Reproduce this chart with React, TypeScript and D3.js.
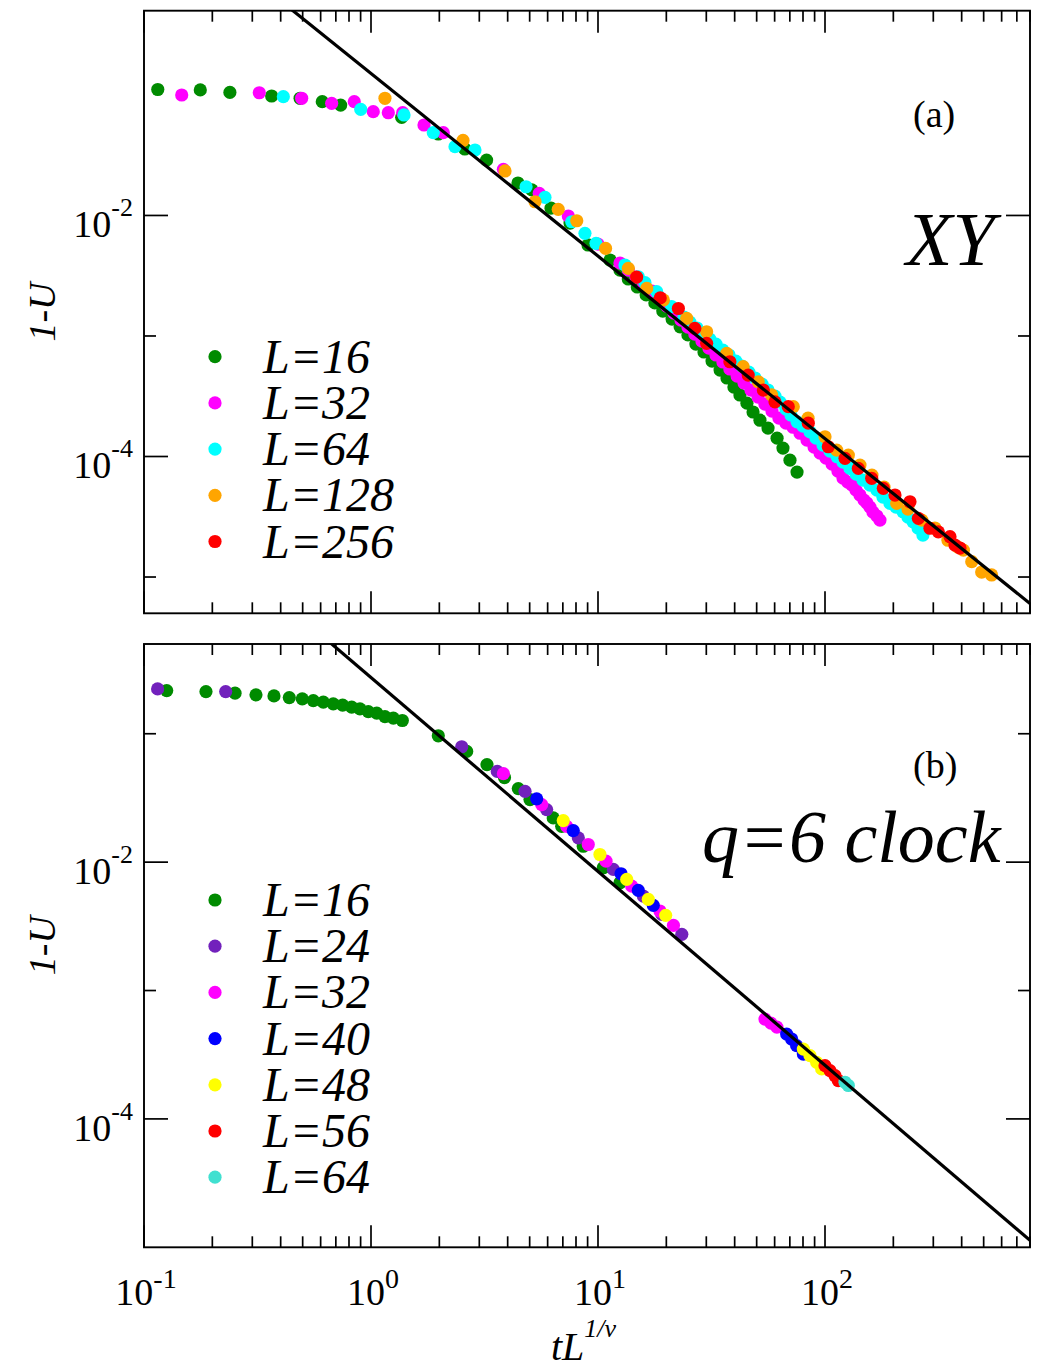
import React from "react";
import * as d3 from "d3";

// panel (a): XY model, 1-U against tL^{1/nu}
const XY_L16: [number, number][] = [
  [0.115, 0.111], [0.177, 0.11], [0.239, 0.105], [0.365, 0.098], [0.487, 0.0938],
  [0.61, 0.0879], [0.735, 0.0824], [1.365, 0.0652], [1.98, 0.0474], [2.59, 0.0356],
  [3.23, 0.0288], [4.44, 0.0186], [5.11, 0.0163], [6.21, 0.0115], [7.53, 0.00865],
  [9.04, 0.00569], [11.3, 0.00427], [12.5, 0.00352], [13.6, 0.00297], [14.9, 0.00255],
  [16.3, 0.00219], [17.8, 0.00188], [19.3, 0.00161], [21.2, 0.00138], [23.0, 0.00119],
  [24.9, 0.00102], [27.0, 0.000857], [29.3, 0.000736], [31.8, 0.000619], [34.5, 0.000521],
  [37.0, 0.000448], [39.7, 0.000377], [42.2, 0.000324], [45.3, 0.000277], [48.2, 0.000234],
  [51.7, 0.0002], [56.1, 0.000172], [61.5, 0.000142], [65.3, 0.0001175], [70.1, 9.33e-5],
  [75.3, 7.43e-5],
];
const XY_L32: [number, number][] = [
  [0.1466, 0.0999], [0.322, 0.1043], [0.495, 0.0938], [0.671, 0.0852], [0.844, 0.0879],
  [1.023, 0.0726], [1.192, 0.0712], [1.379, 0.0712], [1.712, 0.0563], [2.082, 0.0486],
  [3.83, 0.02415], [5.51, 0.01527], [7.4, 0.00989], [10.0, 0.00579], [12.5, 0.00403],
  [13.6, 0.00352], [14.7, 0.00308], [15.9, 0.0027], [17.3, 0.00236], [18.8, 0.00207],
  [20.1, 0.00177], [21.6, 0.00155], [23.2, 0.001355], [24.9, 0.001186], [26.7, 0.001038],
  [28.7, 0.000908], [30.8, 0.000794], [33.1, 0.000695], [35.5, 0.000608], [38.1, 0.000532],
  [41.0, 0.000465], [44.0, 0.000406], [47.2, 0.000356], [50.7, 0.000311], [54.4, 0.000272],
  [58.4, 0.000238], [62.7, 0.000208], [67.3, 0.000189], [72.3, 0.000175], [77.6, 0.000156],
  [83.3, 0.0001368], [89.5, 0.0001197], [95.1, 0.0001067], [101, 9.7e-5], [107.4, 8.65e-5],
  [114, 7.57e-5], [120, 6.62e-5], [126, 6.14e-5], [131.5, 5.79e-5], [137, 5.26e-5],
  [142.6, 4.79e-5], [148.6, 4.35e-5], [153, 4.11e-5], [157.8, 3.8e-5], [162.6, 3.46e-5],
  [169.4, 3.21e-5], [174.6, 2.97e-5],
];
const XY_L64: [number, number][] = [
  [0.411, 0.0967], [0.901, 0.076], [1.398, 0.0682], [1.881, 0.0486], [2.344, 0.0372],
  [2.871, 0.0349], [4.82, 0.01731], [5.84, 0.01414], [7.66, 0.00887], [8.76, 0.00711],
  [9.8, 0.00587], [13.15, 0.00388], [15.05, 0.0031], [16.1, 0.00277], [18.14, 0.00233],
  [21.1, 0.00175], [23.9, 0.001436], [25.4, 0.001305], [27.3, 0.001164], [29.0, 0.001057],
  [31.1, 0.000943], [33.1, 0.000857], [35.5, 0.000764], [37.8, 0.000695], [40.5, 0.000619],
  [43.1, 0.000563], [46.2, 0.000502], [49.2, 0.000448], [52.8, 0.000399], [56.1, 0.000356],
  [60.2, 0.000317], [63.4, 0.000283], [67.3, 0.000248], [70.8, 0.000221], [75.3, 0.000194],
  [80.0, 0.000179], [85.9, 0.00016], [91.3, 0.000142], [98.0, 0.0001245], [105.2, 0.000111],
  [113, 9.95e-5], [120, 8.99e-5], [128.8, 7.97e-5], [137, 7.15e-5], [147, 6.37e-5],
  [157.8, 5.79e-5], [169.4, 5.26e-5], [180.1, 4.6e-5], [193.3, 4.08e-5], [205.5, 3.8e-5],
  [220.6, 3.48e-5], [232, 3.14e-5], [244.2, 2.87e-5], [256.9, 2.55e-5], [270, 2.23e-5],
];
const XY_L128: [number, number][] = [
  [1.152, 0.0938], [2.543, 0.0419], [3.894, 0.0234], [5.28, 0.013], [6.68, 0.01125],
  [8.06, 0.00904], [10.8, 0.00533], [13.6, 0.00364], [16.4, 0.00248], [19.4, 0.00199],
  [24.6, 0.0014], [30.1, 0.001084], [36.9, 0.000718], [43.6, 0.000556], [50.8, 0.000417],
  [58.2, 0.000324], [72.5, 0.000259], [84.2, 0.000208], [100, 0.0001459], [112.6, 0.0001131],
  [126.7, 0.0001028], [142.6, 8.49e-5], [161, 7.01e-5], [182, 5.57e-5], [207, 4.08e-5],
  [232, 3.66e-5], [267, 2.97e-5], [305, 2.55e-5], [348, 2.02e-5], [385, 1.77e-5],
  [407, 1.67e-5], [443, 1.34e-5], [490, 1.1e-5], [542, 1.04e-5],
];
const XY_L256: [number, number][] = [
  [14.8, 0.00308], [18.8, 0.00207], [22.6, 0.00169], [26.7, 0.001156], [30.1, 0.000869],
  [38.1, 0.000611], [45.9, 0.000474], [53.5, 0.000356], [60.2, 0.000284], [68.9, 0.000259],
  [84.4, 0.000189], [103.4, 0.0001205], [122.5, 9.65e-5], [140.2, 7.97e-5], [160.6, 6.59e-5],
  [180.7, 5.44e-5], [203.4, 4.79e-5], [236.8, 4.21e-5], [257.8, 3.07e-5], [290, 2.54e-5],
  [315.7, 2.37e-5], [355.3, 2.16e-5], [373.8, 1.84e-5], [393.3, 1.74e-5],
];

// panel (b): q=6 clock model
const CLOCK_L16: [number, number][] = [
  [0.1259, 0.2168], [0.1875, 0.213], [0.2518, 0.207], [0.3114, 0.2008], [0.3738, 0.1972],
  [0.4366, 0.1913], [0.498, 0.1869], [0.557, 0.1813], [0.6166, 0.1762], [0.682, 0.1709],
  [0.75, 0.167], [0.822, 0.1611], [0.894, 0.1563], [0.973, 0.1489], [1.06, 0.1447],
  [1.152, 0.1361], [1.254, 0.1323], [1.374, 0.1268], [1.979, 0.0964], [2.64, 0.0728],
  [3.243, 0.0574], [3.873, 0.0456], [4.456, 0.0374], [5.017, 0.0307], [6.35, 0.0221],
  [6.92, 0.019], [8.61, 0.0133], [10.55, 0.00904], [12.5, 0.00691],
];
const CLOCK_L24: [number, number][] = [
  [0.1148, 0.2235], [0.229, 0.213], [2.51, 0.0792], [3.6, 0.0509], [4.77, 0.0356],
  [5.94, 0.02565], [8.19, 0.01546], [11.68, 0.00877], [15.84, 0.00544], [19.1, 0.00392],
  [23.4, 0.00274],
];
const CLOCK_L32: [number, number][] = [
  [3.83, 0.0489], [5.65, 0.02805], [7.28, 0.019], [9.06, 0.01372], [10.85, 0.01017],
  [14.08, 0.0065], [18.75, 0.00416], [21.5, 0.00322], [54.4, 0.000599], [57.8, 0.000558],
  [61.4, 0.000519],
];
const CLOCK_L40: [number, number][] = [
  [5.37, 0.0311], [7.78, 0.01762], [12.63, 0.00812], [15.05, 0.00602], [17.52, 0.00461],
  [67.8, 0.000458], [71.3, 0.000419], [75.0, 0.000372], [80.3, 0.00032],
];
const CLOCK_L48: [number, number][] = [
  [7.03, 0.02107], [10.2, 0.01147], [13.38, 0.00733], [16.66, 0.00513], [19.87, 0.00385],
  [80.3, 0.00035], [85.9, 0.000311], [91.9, 0.000276], [96.7, 0.000245],
];
const CLOCK_L56: [number, number][] = [
  [100, 0.00026], [105.2, 0.000238], [110.7, 0.000217], [114.4, 0.000199],
];
const CLOCK_L64: [number, number][] = [
  [122.5, 0.000193], [126.7, 0.000182],
];

// power-law guide lines: 1-U = amp * x^(-exponent)
const XY_FIT = { amp: 0.1507, exponent: 1.515 };
const CLOCK_FIT = { amp: 0.274, exponent: 1.51 };

const X_MAJOR = [0.1, 1, 10, 100];
const X_LABELS = ["-1", "0", "1", "2"];
const Y_MAJOR = [1e-2, 1e-4];
const Y_LABELS = ["-2", "-4"];

const XY_SERIES = [
  { label: "L=16", color: "#008b00", data: XY_L16 },
  { label: "L=32", color: "#ff00ff", data: XY_L32 },
  { label: "L=64", color: "#00ffff", data: XY_L64 },
  { label: "L=128", color: "#ffa500", data: XY_L128 },
  { label: "L=256", color: "#ff0000", data: XY_L256 },
];
const CLOCK_SERIES = [
  { label: "L=16", color: "#008b00", data: CLOCK_L16 },
  { label: "L=24", color: "#7221bc", data: CLOCK_L24 },
  { label: "L=32", color: "#ff00ff", data: CLOCK_L32 },
  { label: "L=40", color: "#0000ff", data: CLOCK_L40 },
  { label: "L=48", color: "#ffff00", data: CLOCK_L48 },
  { label: "L=56", color: "#ff0000", data: CLOCK_L56 },
  { label: "L=64", color: "#40e0d0", data: CLOCK_L64 },
];

const W = 1042;
const H = 1362;
const LEFT = 144;
const RIGHT = 1030;
const SERIF = "'Liberation Serif', 'Times New Roman', serif";

const x = d3.scaleLog().domain([0.1, 800]).range([LEFT, RIGHT]);
const xMinor: number[] = [];
X_MAJOR.forEach((d) => {
  for (let k = 2; k <= 9; k++) if (d * k <= 800) xMinor.push(d * k);
});

const PANELS = [
  {
    id: "a", top: 10.7, bottom: 613.3, yDomain: [0.5, 5e-6], yMinor: [1e-3, 1e-5],
    series: XY_SERIES, fit: XY_FIT, tag: "(a)", tagY: 127,
    name: "XY", nameX: 906, nameY: 265, nameSize: 76, legendY: 356.7, xLabels: false,
  },
  {
    id: "b", top: 644, bottom: 1247.3, yDomain: [0.5, 1e-5], yMinor: [1e-1, 1e-3],
    series: CLOCK_SERIES, fit: CLOCK_FIT, tag: "(b)", tagY: 778,
    name: "q=6 clock", nameX: 702, nameY: 862, nameSize: 74, legendY: 900, xLabels: true,
  },
];

function Panel({ p }: { p: (typeof PANELS)[number] }) {
  const y = d3.scaleLog().domain(p.yDomain).range([p.top, p.bottom]);
  const fitLine = d3
    .line<number>()
    .x((d) => x(d))
    .y((d) => y(p.fit.amp * Math.pow(d, -p.fit.exponent)));
  const midY = (p.top + p.bottom) / 2;
  const tick = (k: string, x1: number, y1: number, x2: number, y2: number) => (
    <line key={k} x1={x1} y1={y1} x2={x2} y2={y2} stroke="#000" strokeWidth={1.7} />
  );
  return (
    <g>
      <defs>
        <clipPath id={`clip-${p.id}`}>
          <rect x={LEFT} y={p.top} width={RIGHT - LEFT} height={p.bottom - p.top} />
        </clipPath>
      </defs>

      {/* data points */}
      <g clipPath={`url(#clip-${p.id})`}>
        {p.series.map((s) =>
          s.data.map((d, i) => (
            <circle key={s.label + i} cx={x(d[0])} cy={y(d[1])} r={6.6} fill={s.color} />
          ))
        )}
        <path d={fitLine(x.domain()) || ""} fill="none" stroke="#000" strokeWidth={3.2} />
      </g>

      {/* ticks */}
      {X_MAJOR.map((v, i) => (
        <g key={"xm" + i}>
          {tick("b", x(v), p.bottom, x(v), p.bottom - 22)}
          {tick("t", x(v), p.top, x(v), p.top + 22)}
        </g>
      ))}
      {xMinor.map((v, i) => (
        <g key={"xn" + i}>
          {tick("b", x(v), p.bottom, x(v), p.bottom - 11)}
          {tick("t", x(v), p.top, x(v), p.top + 11)}
        </g>
      ))}
      {Y_MAJOR.map((v, i) => (
        <g key={"ym" + i}>
          {tick("l", LEFT, y(v), LEFT + 24, y(v))}
          {tick("r", RIGHT, y(v), RIGHT - 24, y(v))}
          <text x={LEFT - 11} y={y(v) + 22} textAnchor="end" fontFamily={SERIF} fontSize={38}>
            10
            <tspan dy={-21} fontSize={26}>{Y_LABELS[i]}</tspan>
          </text>
        </g>
      ))}
      {p.yMinor.map((v, i) => (
        <g key={"yn" + i}>
          {tick("l", LEFT, y(v), LEFT + 12, y(v))}
          {tick("r", RIGHT, y(v), RIGHT - 12, y(v))}
        </g>
      ))}
      {p.xLabels &&
        X_MAJOR.map((v, i) => (
          <text key={"xl" + i} x={x(v) + 2} y={p.bottom + 58} textAnchor="middle" fontFamily={SERIF} fontSize={38}>
            10
            <tspan dy={-17} fontSize={28}>{X_LABELS[i]}</tspan>
          </text>
        ))}

      <rect x={LEFT} y={p.top} width={RIGHT - LEFT} height={p.bottom - p.top} fill="none" stroke="#000" strokeWidth={1.9} />

      {/* axis title */}
      <text
        transform={`translate(55,${midY}) rotate(-90)`}
        textAnchor="middle"
        fontFamily={SERIF}
        fontStyle="italic"
        fontSize={38}
      >
        1-U
      </text>

      {/* legend */}
      {p.series.map((s, i) => (
        <g key={"lg" + i} transform={`translate(0,${p.legendY + i * 46.2})`}>
          <circle cx={215} cy={0} r={6.6} fill={s.color} />
          <text x={263} y={16} fontFamily={SERIF} fontStyle="italic" fontSize={48}>
            {s.label}
          </text>
        </g>
      ))}

      <text x={913} y={p.tagY} fontFamily={SERIF} fontSize={38}>
        {p.tag}
      </text>
      <text x={p.nameX} y={p.nameY} fontFamily={SERIF} fontStyle="italic" fontSize={p.nameSize}>
        {p.name}
      </text>
    </g>
  );
}

export default function App() {
  return (
    <svg
      width={W}
      height={H}
      viewBox={`0 0 ${W} ${H}`}
      style={{ position: "absolute", left: 0, top: 0, background: "#fff" }}
    >
      <rect width={W} height={H} fill="#fff" />
      {PANELS.map((p) => (
        <Panel key={p.id} p={p} />
      ))}
      <text x={551} y={1360} fontFamily={SERIF} fontStyle="italic" fontSize={40}>
        tL
        <tspan dy={-23} fontSize={26}>1/ν</tspan>
      </text>
    </svg>
  );
}
